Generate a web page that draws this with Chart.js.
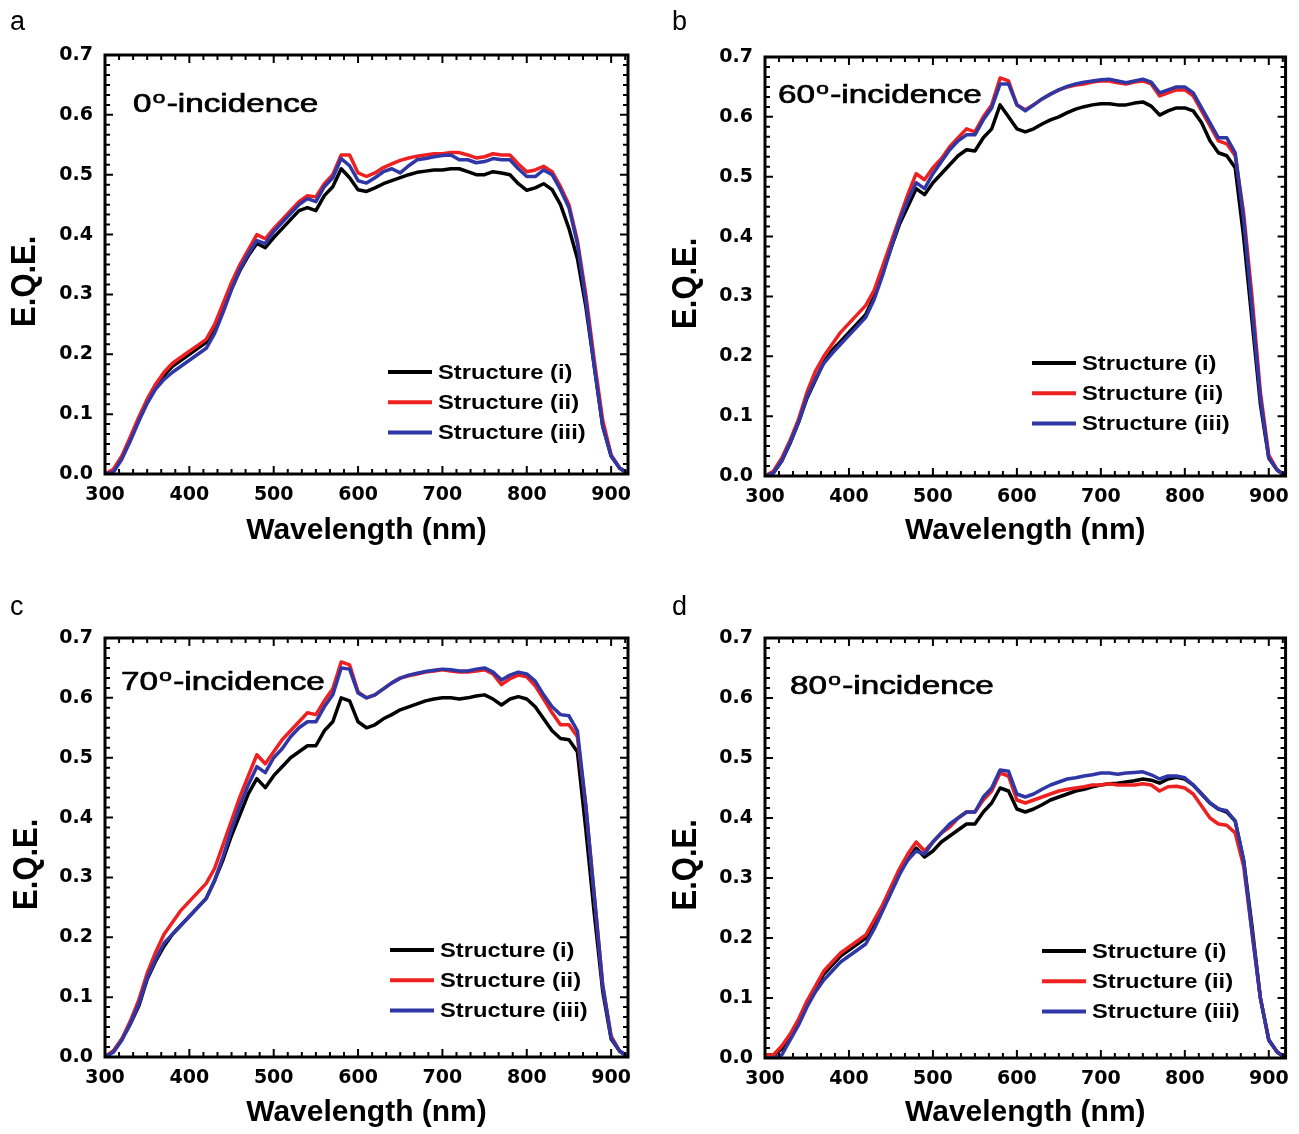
<!DOCTYPE html>
<html lang="en">
<head>
<meta charset="UTF-8">
<title>E.Q.E. spectra at oblique incidence</title>
<script src="https://cdn.jsdelivr.net/npm/chart.js@4.4.1/dist/chart.umd.min.js"></script>
<style>
  body { margin: 0; background: #fff; }
  #figure { position: relative; width: 1299px; height: 1134px; }
  #figure canvas { position: absolute; }
</style>
</head>
<body>
<div id="figure"></div>
<script>
// wavelength grid (nm), shared by every curve
const wavelength = [
  300, 310, 320, 330, 340, 350, 360, 370, 380, 390,
  400, 410, 420, 430, 440, 450, 460, 470, 480, 490,
  500, 510, 520, 530, 540, 550, 560, 570, 580, 590,
  600, 610, 620, 630, 640, 650, 660, 670, 680, 690,
  700, 710, 720, 730, 740, 750, 760, 770, 780, 790,
  800, 810, 820, 830, 840, 850, 860, 870, 880, 890,
  900, 910, 920
];

const xTickValues = [300, 400, 500, 600, 700, 800, 900];
const yTickValues = [0, 0.1, 0.2, 0.3, 0.4, 0.5, 0.6, 0.7];

const seriesNames = ['Structure (i)', 'Structure (ii)', 'Structure (iii)'];
const seriesColors = ['#000000', '#ee2020', '#2f36a6'];

// 0 degree incidence
const eqe0_i = [
  0.000, 0.005, 0.028, 0.058, 0.090, 0.120, 0.145, 0.165, 0.180, 0.190,
  0.200, 0.210, 0.220, 0.245, 0.275, 0.310, 0.340, 0.365, 0.385, 0.378,
  0.395, 0.410, 0.425, 0.440, 0.445, 0.440, 0.465, 0.480, 0.510, 0.495,
  0.475, 0.472, 0.478, 0.485, 0.490, 0.495, 0.500, 0.504, 0.506, 0.508,
  0.508, 0.510, 0.510, 0.505, 0.500, 0.500, 0.505, 0.503, 0.500, 0.485,
  0.474, 0.478, 0.485, 0.475, 0.450, 0.410, 0.360, 0.280, 0.180, 0.080,
  0.030, 0.010, 0.000
];
const eqe0_ii = [
  0.000, 0.008, 0.030, 0.062, 0.095, 0.125, 0.150, 0.170, 0.185, 0.195,
  0.205, 0.215, 0.225, 0.250, 0.285, 0.320, 0.350, 0.375, 0.400, 0.393,
  0.410, 0.425, 0.440, 0.455, 0.465, 0.463, 0.485, 0.500, 0.533, 0.533,
  0.503, 0.497, 0.503, 0.512, 0.518, 0.524, 0.528, 0.531, 0.533, 0.535,
  0.535, 0.537, 0.537, 0.533, 0.528, 0.530, 0.535, 0.533, 0.533, 0.518,
  0.505, 0.508, 0.514, 0.505, 0.480, 0.450, 0.390, 0.300, 0.190, 0.090,
  0.032, 0.010, 0.000
];
const eqe0_iii = [
  0.000, 0.003, 0.025, 0.055, 0.088, 0.118, 0.142, 0.158, 0.170, 0.180,
  0.190, 0.200, 0.210, 0.235, 0.270, 0.308, 0.342, 0.368, 0.390, 0.385,
  0.405, 0.420, 0.435, 0.450, 0.460, 0.455, 0.480, 0.495, 0.527, 0.515,
  0.490, 0.486, 0.495, 0.505, 0.510, 0.503, 0.515, 0.525, 0.527, 0.530,
  0.532, 0.533, 0.525, 0.525, 0.520, 0.522, 0.527, 0.525, 0.525, 0.510,
  0.497, 0.497, 0.508, 0.500, 0.475, 0.445, 0.385, 0.290, 0.180, 0.080,
  0.030, 0.010, 0.000
];

// 60 degree incidence
const eqe60_i = [
  0.000, 0.005, 0.025, 0.055, 0.090, 0.130, 0.160, 0.190, 0.210, 0.225,
  0.240, 0.255, 0.270, 0.300, 0.340, 0.380, 0.420, 0.450, 0.480, 0.470,
  0.490, 0.505, 0.520, 0.535, 0.545, 0.543, 0.565, 0.580, 0.620, 0.600,
  0.580, 0.575, 0.580, 0.588, 0.595, 0.600, 0.607, 0.613, 0.617, 0.620,
  0.622, 0.622, 0.620, 0.620, 0.623, 0.625, 0.618, 0.603, 0.610, 0.615,
  0.615, 0.610, 0.590, 0.560, 0.540, 0.535, 0.515, 0.400, 0.260, 0.120,
  0.030, 0.010, 0.000
];
const eqe60_ii = [
  0.000, 0.008, 0.030, 0.060, 0.095, 0.140, 0.175, 0.200, 0.220, 0.240,
  0.255, 0.270, 0.285, 0.310, 0.350, 0.390, 0.430, 0.470, 0.505, 0.495,
  0.515, 0.530, 0.550, 0.565, 0.580, 0.575, 0.600, 0.620, 0.665, 0.660,
  0.620, 0.612, 0.620, 0.630, 0.638, 0.645, 0.650, 0.653, 0.655, 0.658,
  0.660, 0.660, 0.657, 0.655, 0.658, 0.660, 0.655, 0.635, 0.640, 0.645,
  0.645, 0.635, 0.610, 0.585, 0.560, 0.555, 0.535, 0.440, 0.300, 0.140,
  0.035, 0.010, 0.000
];
const eqe60_iii = [
  0.000, 0.005, 0.026, 0.056, 0.090, 0.132, 0.162, 0.188, 0.205, 0.220,
  0.235, 0.250, 0.265, 0.295, 0.335, 0.380, 0.425, 0.460, 0.490, 0.480,
  0.505, 0.525, 0.545, 0.560, 0.570, 0.570, 0.595, 0.615, 0.655, 0.655,
  0.620, 0.610, 0.620, 0.630, 0.638, 0.645, 0.651, 0.655, 0.658, 0.660,
  0.662, 0.663, 0.660, 0.657, 0.660, 0.663, 0.658, 0.640, 0.645, 0.650,
  0.650, 0.640, 0.615, 0.590, 0.565, 0.565, 0.540, 0.430, 0.280, 0.130,
  0.030, 0.010, 0.000
];

// 70 degree incidence
const eqe70_i = [
  0.000, 0.010, 0.030, 0.055, 0.085, 0.130, 0.160, 0.185, 0.205, 0.220,
  0.235, 0.250, 0.265, 0.295, 0.330, 0.370, 0.405, 0.440, 0.465, 0.450,
  0.470, 0.485, 0.500, 0.510, 0.520, 0.520, 0.545, 0.560, 0.600, 0.595,
  0.560, 0.550, 0.555, 0.565, 0.572, 0.580, 0.585, 0.590, 0.595, 0.598,
  0.600, 0.600, 0.598, 0.600, 0.603, 0.605, 0.598, 0.588, 0.598, 0.602,
  0.598, 0.585, 0.565, 0.545, 0.532, 0.530, 0.510, 0.380, 0.240, 0.110,
  0.030, 0.010, 0.000
];
const eqe70_ii = [
  0.000, 0.010, 0.030, 0.060, 0.095, 0.140, 0.175, 0.205, 0.225, 0.245,
  0.260, 0.275, 0.290, 0.315, 0.355, 0.395, 0.435, 0.470, 0.505, 0.490,
  0.510, 0.530, 0.545, 0.560, 0.575, 0.572, 0.595, 0.615, 0.660, 0.655,
  0.610, 0.600, 0.605, 0.615, 0.625, 0.633, 0.637, 0.640, 0.643, 0.645,
  0.647, 0.645, 0.643, 0.643, 0.645, 0.647, 0.640, 0.622, 0.632, 0.638,
  0.635, 0.620, 0.598, 0.575, 0.555, 0.555, 0.535, 0.420, 0.270, 0.120,
  0.035, 0.010, 0.000
];
const eqe70_iii = [
  0.000, 0.008, 0.028, 0.056, 0.088, 0.132, 0.163, 0.190, 0.205, 0.220,
  0.235, 0.250, 0.265, 0.295, 0.335, 0.380, 0.420, 0.455, 0.485, 0.475,
  0.500, 0.515, 0.535, 0.550, 0.560, 0.560, 0.585, 0.605, 0.650, 0.648,
  0.608, 0.600, 0.605, 0.615, 0.625, 0.633, 0.638, 0.641, 0.644, 0.646,
  0.648, 0.647, 0.645, 0.645, 0.648, 0.650, 0.643, 0.630, 0.638, 0.643,
  0.640, 0.628, 0.605, 0.585, 0.572, 0.570, 0.545, 0.420, 0.270, 0.120,
  0.032, 0.010, 0.000
];

// 80 degree incidence
const eqe80_i = [
  0.005, 0.005, 0.015, 0.035, 0.060, 0.090, 0.115, 0.140, 0.155, 0.170,
  0.180, 0.190, 0.200, 0.225, 0.250, 0.280, 0.310, 0.330, 0.350, 0.335,
  0.345, 0.360, 0.370, 0.380, 0.390, 0.390, 0.410, 0.425, 0.450, 0.445,
  0.415, 0.410, 0.415, 0.422, 0.430, 0.435, 0.440, 0.445, 0.448, 0.452,
  0.455, 0.457, 0.458, 0.460, 0.462, 0.465, 0.463, 0.458, 0.465, 0.468,
  0.465, 0.455, 0.440, 0.425, 0.415, 0.410, 0.395, 0.330, 0.220, 0.100,
  0.030, 0.010, 0.000
];
const eqe80_ii = [
  0.005, 0.005, 0.020, 0.040, 0.065, 0.095, 0.120, 0.145, 0.160, 0.175,
  0.185, 0.195, 0.205, 0.230, 0.255, 0.285, 0.315, 0.340, 0.360, 0.345,
  0.360, 0.375, 0.385, 0.400, 0.410, 0.410, 0.430, 0.445, 0.475, 0.470,
  0.430, 0.425, 0.430, 0.435, 0.440, 0.445, 0.448, 0.450, 0.452, 0.455,
  0.455, 0.457, 0.455, 0.455, 0.455, 0.457, 0.455, 0.445, 0.452, 0.453,
  0.450, 0.440, 0.420, 0.400, 0.390, 0.388, 0.375, 0.320, 0.210, 0.100,
  0.030, 0.010, 0.000
];
const eqe80_iii = [
  0.000, 0.000, 0.005, 0.030, 0.055, 0.085, 0.110, 0.130, 0.145, 0.160,
  0.170, 0.180, 0.190, 0.215, 0.245, 0.275, 0.305, 0.330, 0.345, 0.340,
  0.360, 0.375, 0.390, 0.400, 0.410, 0.410, 0.435, 0.450, 0.480, 0.478,
  0.440, 0.435, 0.440, 0.448, 0.455, 0.460, 0.465, 0.467, 0.470, 0.472,
  0.475, 0.475, 0.473, 0.475, 0.476, 0.477, 0.472, 0.465, 0.470, 0.470,
  0.467, 0.455, 0.440, 0.425, 0.415, 0.412, 0.395, 0.330, 0.210, 0.100,
  0.030, 0.010, 0.000
];

// page layout of the four panels (pixels)
const panels = [
  { tag: 'a', angle: '0',  series: [eqe0_i, eqe0_ii, eqe0_iii],
    box: [0, 0, 650, 567],     area: [105, 55, 628, 474],
    letter: [10, 30],  yTitleX: 25,  xTitleY: 531,  inset: [133, 112], legend: [388, 372] },
  { tag: 'b', angle: '60', series: [eqe60_i, eqe60_ii, eqe60_iii],
    box: [650, 0, 649, 567],   area: [765, 57, 1287, 476],
    letter: [672, 30], yTitleX: 686, xTitleY: 531,  inset: [778, 103], legend: [1032, 363] },
  { tag: 'c', angle: '70', series: [eqe70_i, eqe70_ii, eqe70_iii],
    box: [0, 567, 650, 567],   area: [105, 638, 628, 1057],
    letter: [10, 615], yTitleX: 27,  xTitleY: 1113, inset: [121, 690], legend: [390, 950] },
  { tag: 'd', angle: '80', series: [eqe80_i, eqe80_ii, eqe80_iii],
    box: [650, 567, 649, 567], area: [765, 638, 1287, 1058],
    letter: [672, 615], yTitleX: 686, xTitleY: 1113, inset: [790, 694], legend: [1042, 951] }
];

const SANS = '"Liberation Sans", Arial, sans-serif';
const TITLE_SIZE = 30;
const tickFont = { family: '"DejaVu Sans", sans-serif', size: 19, weight: 'bold' };
const MINOR_DIV = 6;           // minor intervals per major step
const LEGEND_ROW = 30.3;

// text stretched horizontally, like the wide face used in the figure
function wideText(ctx, text, x, y, font, sx) {
  ctx.save();
  ctx.font = font;
  ctx.translate(x, y);
  ctx.scale(sx, 1);
  ctx.fillText(text, 0, 0);
  ctx.restore();
}

// inward ticks on all four sides plus the heavy frame
const frameTicks = {
  id: 'frameTicks',
  afterDatasetsDraw(chart) {
    const { ctx, chartArea: a, scales: { x, y } } = chart;
    ctx.save();
    ctx.strokeStyle = '#000';
    ctx.lineWidth = 2;
    ctx.beginPath();
    const xStep = 100 / MINOR_DIV;
    for (let i = 0; 300 + i * xStep <= x.max + 0.01; i++) {
      const px = x.getPixelForValue(300 + i * xStep);
      const len = i % MINOR_DIV === 0 ? 8 : 5;
      ctx.moveTo(px, a.bottom); ctx.lineTo(px, a.bottom - len);
      ctx.moveTo(px, a.top);    ctx.lineTo(px, a.top + len);
    }
    const yStep = 0.1 / MINOR_DIV;
    for (let i = 0; i * yStep <= y.max + 1e-6; i++) {
      const py = y.getPixelForValue(i * yStep);
      const len = i % MINOR_DIV === 0 ? 8 : 5;
      ctx.moveTo(a.left, py);  ctx.lineTo(a.left + len, py);
      ctx.moveTo(a.right, py); ctx.lineTo(a.right - len, py);
    }
    ctx.stroke();
    ctx.lineWidth = 3;
    ctx.strokeRect(a.left, a.top, a.right - a.left, a.bottom - a.top);
    ctx.restore();
  }
};

// panel letter, y-axis title, incidence label and legend
function panelText(p) {
  const [x0, y0] = p.box;
  return {
    id: 'panelText',
    afterDraw(chart) {
      const { ctx, chartArea: a } = chart;
      ctx.save();
      ctx.fillStyle = '#000';
      ctx.strokeStyle = '#000';
      ctx.textBaseline = 'alphabetic';
      ctx.textAlign = 'left';

      ctx.font = '27px ' + SANS;
      ctx.fillText(p.tag, p.letter[0] - x0, p.letter[1] - y0);

      ctx.save();
      ctx.translate(p.yTitleX - x0, a.top + 0.54 * (a.bottom - a.top));
      ctx.scale(1.12, 1);
      ctx.rotate(-Math.PI / 2);
      ctx.font = 'bold 31px ' + SANS;
      ctx.textAlign = 'center';
      ctx.textBaseline = 'middle';
      ctx.fillText('E.Q.E.', 0, 0);
      ctx.restore();

      // "NN°-incidence" with a raised small o, slightly thickened
      ctx.save();
      ctx.translate(p.inset[0] - x0, p.inset[1] - y0);
      ctx.scale(1.33, 1);
      ctx.lineWidth = 0.7;
      ctx.font = '25px ' + SANS;
      ctx.fillText(p.angle, 0, 0);
      ctx.strokeText(p.angle, 0, 0);
      let cx = ctx.measureText(p.angle).width + 1;
      ctx.font = '17px ' + SANS;
      ctx.fillText('o', cx, -9);
      ctx.strokeText('o', cx, -9);
      cx += ctx.measureText('o').width + 1;
      ctx.font = '25px ' + SANS;
      ctx.fillText('-incidence', cx, 0);
      ctx.strokeText('-incidence', cx, 0);
      ctx.restore();

      ctx.textBaseline = 'middle';
      chart.data.datasets.forEach((ds, k) => {
        const lx = p.legend[0] - x0;
        const ly = p.legend[1] - y0 + k * LEGEND_ROW;
        ctx.strokeStyle = ds.borderColor;
        ctx.lineWidth = 4;
        ctx.beginPath();
        ctx.moveTo(lx, ly);
        ctx.lineTo(lx + 44, ly);
        ctx.stroke();
        wideText(ctx, ds.label, lx + 50, ly + 1, 'bold 21px ' + SANS, 1.13);
      });
      ctx.restore();
    }
  };
}

const figure = document.getElementById('figure');

panels.forEach(p => {
  const [x0, y0, w, h] = p.box;
  const [l, t, r, b] = p.area;
  const canvas = document.createElement('canvas');
  canvas.width = w;
  canvas.height = h;
  canvas.style.left = x0 + 'px';
  canvas.style.top = y0 + 'px';
  figure.appendChild(canvas);

  const xAxisHeight = p.xTitleY + TITLE_SIZE * 0.6 - b;
  const padBottom = (y0 + h) - b - xAxisHeight;

  new Chart(canvas, {
    type: 'line',
    data: {
      datasets: seriesNames.map((name, k) => ({
        label: name,
        data: wavelength.map((wl, i) => ({ x: wl, y: p.series[k][i] })),
        borderColor: seriesColors[k],
        backgroundColor: seriesColors[k],
        borderWidth: 3.5,
        borderJoinStyle: 'round',
        pointRadius: 0,
        tension: 0,
        fill: false,
        order: seriesNames.length - 1 - k
      }))
    },
    options: {
      responsive: false,
      animation: false,
      events: [],
      layout: {
        autoPadding: false,
        padding: { left: 0, top: t - y0, right: x0 + w - r, bottom: padBottom }
      },
      plugins: { legend: { display: false }, tooltip: { enabled: false } },
      scales: {
        x: {
          type: 'linear',
          min: 300,
          max: 920,
          afterBuildTicks: s => { s.ticks = xTickValues.map(v => ({ value: v })); },
          afterFit: s => { s.height = xAxisHeight; },
          grid: { display: false, drawTicks: false },
          border: { display: false },
          ticks: { color: '#000', font: tickFont, padding: 10, maxRotation: 0, autoSkip: false,
                   callback: v => String(v) },
          title: { display: true, text: 'Wavelength (nm)', color: '#000', padding: 0,
                   font: { family: SANS, size: TITLE_SIZE, weight: 'bold' } }
        },
        y: {
          type: 'linear',
          min: 0,
          max: 0.7,
          afterBuildTicks: s => { s.ticks = yTickValues.map(v => ({ value: v })); },
          afterFit: s => { s.width = l - x0; },
          grid: { display: false, drawTicks: false },
          border: { display: false },
          ticks: { color: '#000', font: tickFont, padding: 12, callback: v => v.toFixed(1) }
        }
      }
    },
    plugins: [frameTicks, panelText(p)]
  });
});
</script>
</body>
</html>
